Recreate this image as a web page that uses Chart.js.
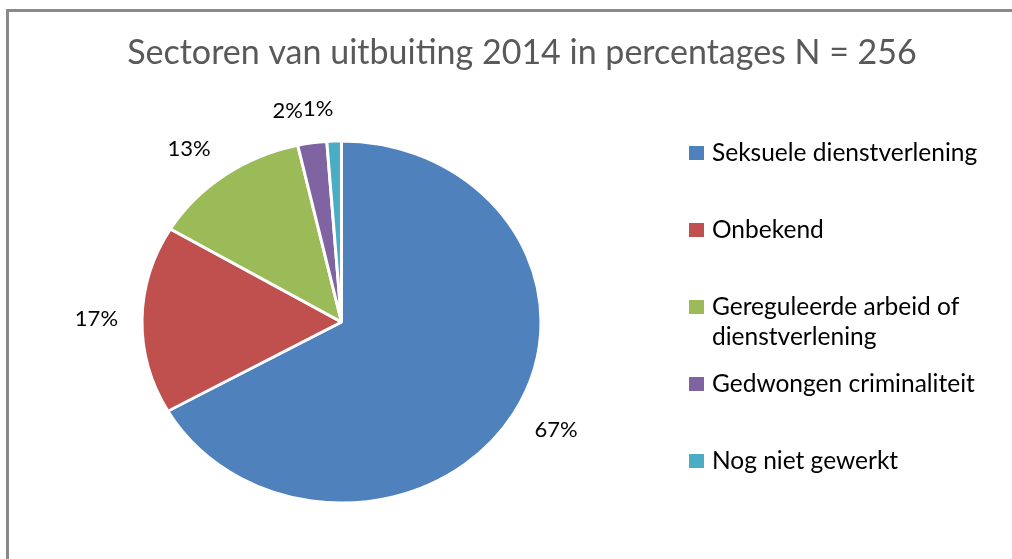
<!DOCTYPE html>
<html>
<head>
<meta charset="utf-8">
<script src="https://cdn.jsdelivr.net/npm/chart.js@4/dist/chart.umd.min.js"></script>
<style>
  html, body { margin: 0; padding: 0; background: #ffffff; overflow: hidden; }
  #wrap { width: 1012px; height: 559px; }
  canvas { display: block; }
</style>
</head>
<body>
<div id="wrap"><canvas id="c" width="1012" height="559"></canvas></div>
<script>
const titleText = 'Sectoren van uitbuiting 2014 in percentages N = 256';
const categories = [
  'Seksuele dienstverlening',
  'Onbekend',
  'Gereguleerde arbeid of dienstverlening',
  'Gedwongen criminaliteit',
  'Nog niet gewerkt'
];
const counts = [171, 43, 33, 6, 3];
const percentLabels = ['67%', '17%', '13%', '2%', '1%'];
const colors = ['#4F81BD', '#C0504D', '#9BBB59', '#8064A2', '#4BACC6'];

const FONT = 'Lato, "Open Sans", "Liberation Sans", sans-serif';
const ELLIPSE_Y = 0.907;

const framePlugin = {
  id: 'frame',
  beforeDraw(chart) {
    const ctx = chart.ctx;
    ctx.save();
    ctx.fillStyle = '#ffffff';
    ctx.fillRect(0, 0, chart.width, chart.height);
    ctx.fillStyle = '#8a8a8a';
    ctx.fillRect(6, 9, 3, chart.height - 9);
    ctx.fillRect(6, 9, chart.width - 6, 3);
    // title
    ctx.fillStyle = '#595959';
    ctx.font = '34px ' + FONT;
    ctx.textAlign = 'center';
    ctx.textBaseline = 'middle';
    ctx.fillText(titleText, 522, 53);
    ctx.restore();
  },
  beforeDatasetsDraw(chart) {
    const meta = chart.getDatasetMeta(0);
    const a = meta.data[0];
    const ctx = chart.ctx;
    ctx.save();
    ctx.translate(a.x, a.y);
    ctx.scale(1, ELLIPSE_Y);
    ctx.translate(-a.x, -a.y);
  },
  afterDatasetsDraw(chart) {
    chart.ctx.restore();
  },
  afterDraw(chart) {
    const ctx = chart.ctx;
    const meta = chart.getDatasetMeta(0);
    ctx.save();
    ctx.font = '22px ' + FONT;
    ctx.fillStyle = '#000000';
    ctx.textAlign = 'center';
    ctx.textBaseline = 'middle';
    const boxes = meta.data.map((arc, i) => {
      const mid = (arc.startAngle + arc.endAngle) / 2;
      const r = arc.outerRadius + 24;
      const w = ctx.measureText(percentLabels[i]).width;
      const h = 22;
      const c = Math.cos(mid), s = Math.sin(mid);
      return {
        x: arc.x + c * r + Math.sign(c) * w / 2,
        y: arc.y + s * r * ELLIPSE_Y + s * h / 2,
        w, h
      };
    });
    // simple overlap avoidance: push the earlier (left) label away
    for (let i = boxes.length - 1; i > 0; i--) {
      const a = boxes[i - 1], b = boxes[i];
      const vOverlap = Math.abs(a.y - b.y) < (a.h + b.h) / 2;
      const hOverlap = (a.w + b.w) / 2 - Math.abs(a.x - b.x);
      if (vOverlap && hOverlap > 0) {
        if (a.x <= b.x) a.x -= hOverlap; else a.x += hOverlap;
      }
    }
    boxes.forEach((b, i) => ctx.fillText(percentLabels[i], b.x, b.y));
    // legend
    ctx.font = '24.5px ' + FONT;
    const lx = 689, tx = 712, lineH = 30, pitch = 77, maxW = 285;
    ctx.textAlign = 'left';
    categories.forEach((cat, i) => {
      const y = 153 + i * pitch;
      const words = cat.split(' ');
      const lines = [];
      let cur = '';
      words.forEach(wd => {
        const test = cur ? cur + ' ' + wd : wd;
        if (ctx.measureText(test).width > maxW && cur) { lines.push(cur); cur = wd; }
        else cur = test;
      });
      if (cur) lines.push(cur);
      ctx.fillStyle = colors[i];
      ctx.fillRect(lx, y - 7, 15, 14);
      ctx.fillStyle = '#000000';
      lines.forEach((ln, k) => ctx.fillText(ln, tx, y + k * lineH));
    });
    ctx.restore();
  }
};

new Chart(document.getElementById('c'), {
  type: 'pie',
  data: {
    labels: categories,
    datasets: [{
      data: counts,
      backgroundColor: colors,
      borderColor: '#ffffff',
      borderWidth: 3,
      hoverOffset: 0
    }]
  },
  options: {
    responsive: false,
    animation: false,
    layout: { padding: { left: 140.5, right: 469.5, top: 121, bottom: 36 } },
    plugins: {
      legend: { display: false },
      title: { display: false },
      tooltip: { enabled: false }
    }
  },
  plugins: [framePlugin]
});
</script>
</body>
</html>
